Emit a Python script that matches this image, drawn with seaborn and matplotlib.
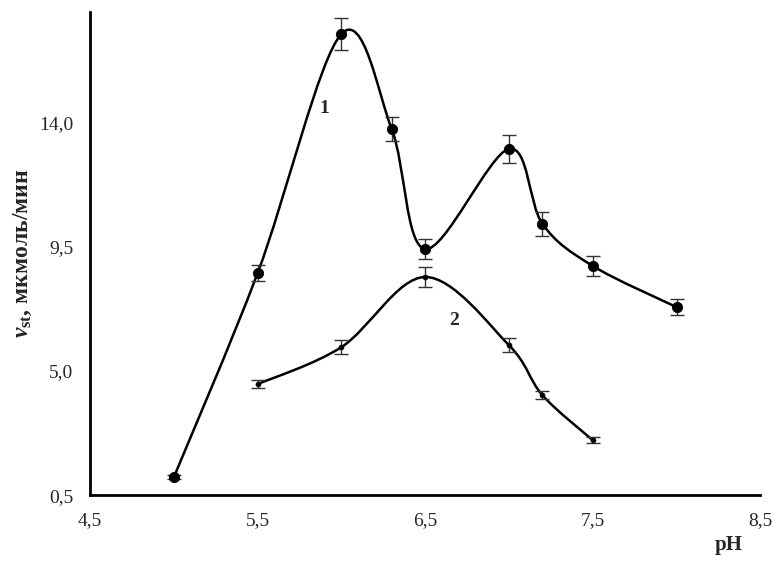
import numpy as np
import seaborn as sns
import matplotlib.pyplot as plt
from matplotlib.path import Path
from matplotlib.patches import PathPatch

# data
ph_1 = [5.0, 5.5, 6.0, 6.3, 6.5, 7.0, 7.2, 7.5, 8.0]
rate_1 = [1.15, 8.54, 17.2, 13.76, 9.41, 13.04, 10.32, 8.8, 7.31]
err_1 = [0.08, 0.3, 0.58, 0.45, 0.35, 0.5, 0.45, 0.35, 0.3]

ph_2 = [5.5, 6.0, 6.5, 7.0, 7.2, 7.5]
rate_2 = [4.52, 5.86, 8.4, 5.93, 4.12, 2.49]
err_2 = [0.15, 0.25, 0.35, 0.25, 0.15, 0.1]

x_ticks = [4.5, 5.5, 6.5, 7.5, 8.5]
y_ticks = [0.5, 5.0, 9.5, 14.0]

sns.set_style("white")
plt.rcParams['font.family'] = ['Liberation Serif', 'DejaVu Serif']
plt.rcParams['mathtext.fontset'] = 'custom'
plt.rcParams['mathtext.rm'] = 'Liberation Serif:bold'
plt.rcParams['mathtext.it'] = 'Liberation Serif:bold:italic'
plt.rcParams['mathtext.bf'] = 'Liberation Serif:bold'


def smooth_path(xs, ys):
    # bezier segments like the "smoothed line" of a spreadsheet chart
    pts = np.column_stack([xs, ys])
    verts = [pts[0]]
    codes = [Path.MOVETO]
    n = len(pts)
    for i in range(n - 1):
        p0 = pts[max(i - 1, 0)]
        p1 = pts[i]
        p2 = pts[i + 1]
        p3 = pts[min(i + 2, n - 1)]
        verts += [p1 + (p2 - p0) / 6, p2 - (p3 - p1) / 6, p2]
        codes += [Path.CURVE4] * 3
    return Path(verts, codes)


fig = plt.figure(figsize=(7.83, 5.64), dpi=100)
ax = fig.add_axes([0.115, 0.122, 0.856, 0.857])

for xs, ys in [(ph_1, rate_1), (ph_2, rate_2)]:
    ax.add_patch(PathPatch(smooth_path(xs, ys), facecolor='none',
                           edgecolor='black', lw=1.8, zorder=2))

ax.errorbar(ph_1, rate_1, yerr=err_1, fmt='none', ecolor='#333333',
            elinewidth=1.0, capsize=5, capthick=1.0, zorder=3)
ax.errorbar(ph_2, rate_2, yerr=err_2, fmt='none', ecolor='#333333',
            elinewidth=1.0, capsize=5, capthick=1.0, zorder=3)
sns.scatterplot(x=ph_1, y=rate_1, ax=ax, color='black', s=55,
                edgecolor='black', zorder=4)
sns.scatterplot(x=ph_2, y=rate_2, ax=ax, color='black', s=14,
                edgecolor='black', zorder=4)

ax.set_xlim(4.5, 8.5)
ax.set_ylim(0.5, 18.0)
ax.set_xticks(x_ticks)
ax.set_yticks(y_ticks)
ax.set_xticklabels([f"{v:.1f}".replace('.', ',') for v in x_ticks], fontsize=14)
ax.set_yticklabels([f"{v:.1f}".replace('.', ',') for v in y_ticks], fontsize=14)
ax.tick_params(direction='inout', length=8, width=1.5, color='black', pad=8)

for side in ['top', 'right']:
    ax.spines[side].set_visible(False)
for side in ['left', 'bottom']:
    ax.spines[side].set_linewidth(2)
    ax.spines[side].set_color('black')

ax.set_ylabel(r'$v_{\mathbf{st}}$, мкмоль/мин', fontsize=17, fontweight='bold',
              labelpad=4)
ax.text(8.31, -1.3, 'pH', fontsize=15, fontweight='bold', ha='center',
        va='center', clip_on=False)

ax.text(5.9, 14.5, '1', fontsize=14, fontweight='bold', ha='center', va='center')
ax.text(6.67, 6.84, '2', fontsize=14, fontweight='bold', ha='center', va='center')

plt.savefig('out.png', dpi=100)
